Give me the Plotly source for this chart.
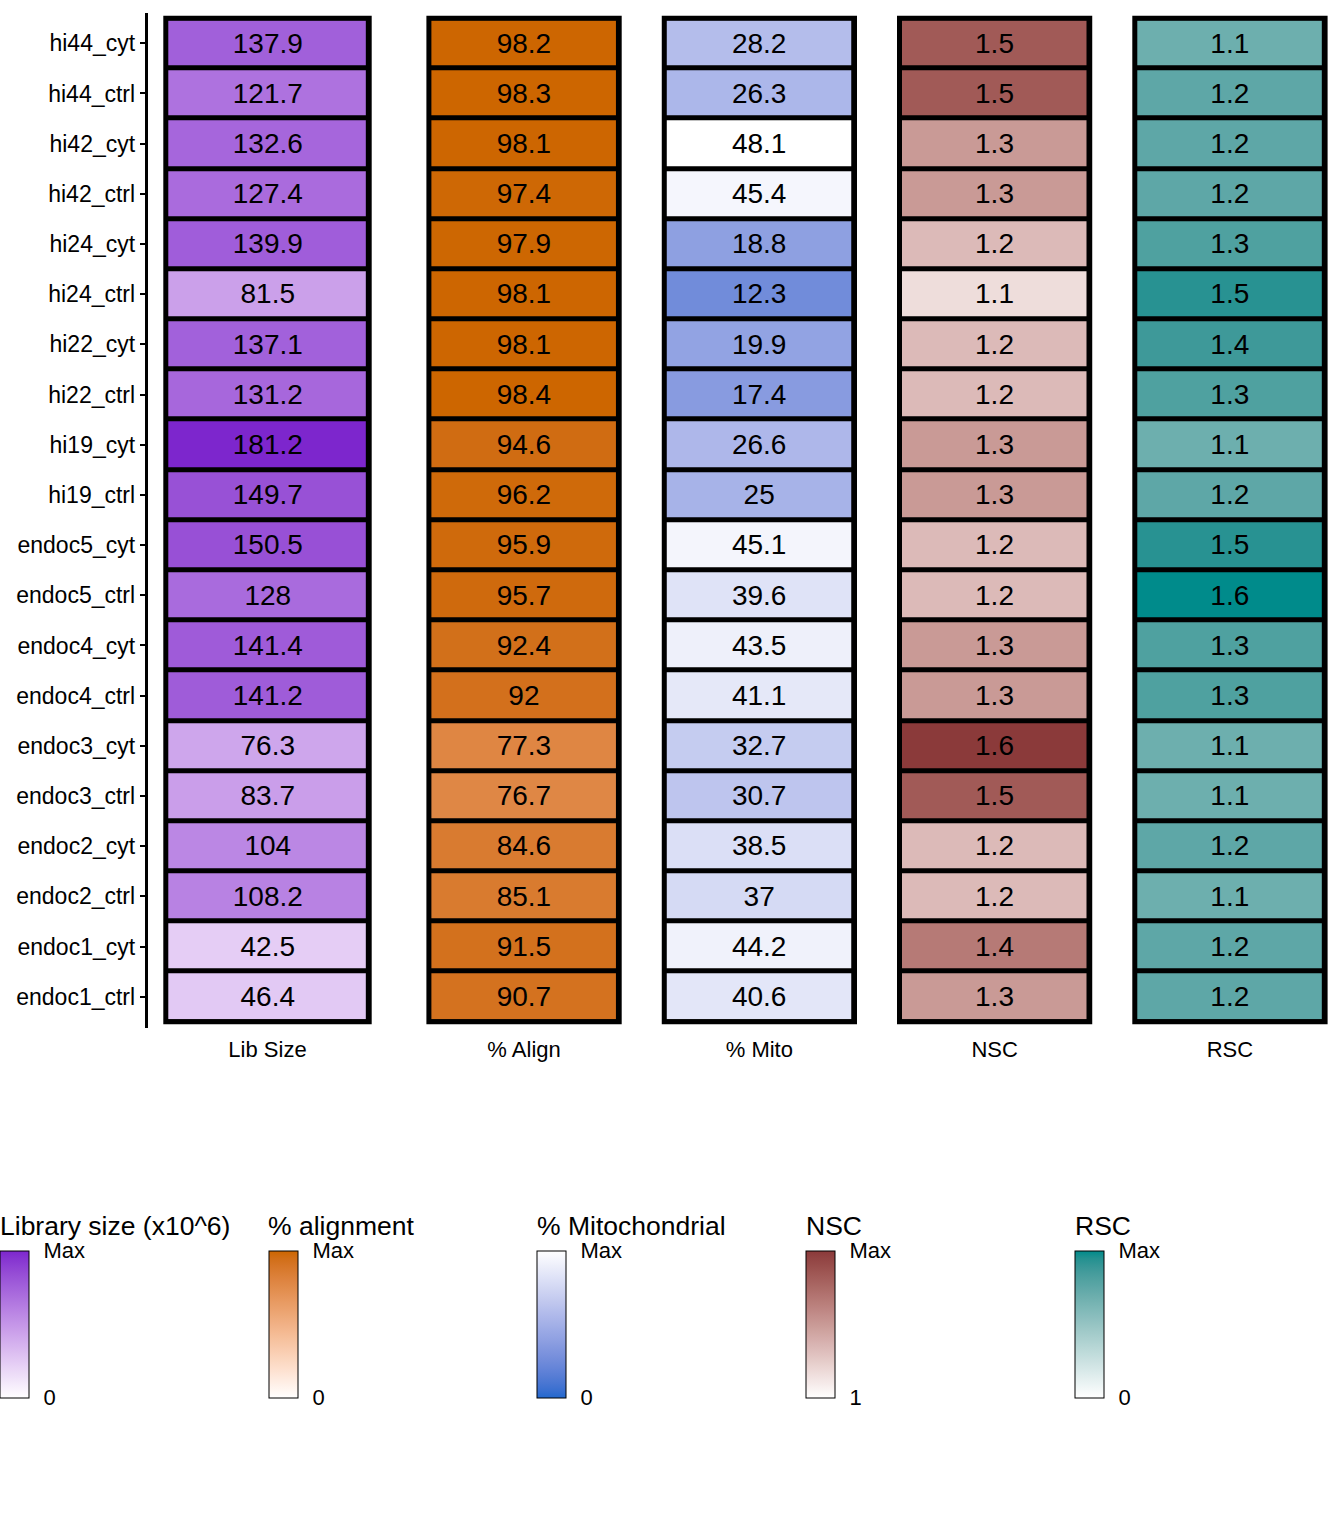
import plotly.graph_objects as go

W, H = 1344, 1536

samples = ["hi44_cyt", "hi44_ctrl", "hi42_cyt", "hi42_ctrl", "hi24_cyt", "hi24_ctrl",
           "hi22_cyt", "hi22_ctrl", "hi19_cyt", "hi19_ctrl", "endoc5_cyt", "endoc5_ctrl",
           "endoc4_cyt", "endoc4_ctrl", "endoc3_cyt", "endoc3_ctrl", "endoc2_cyt",
           "endoc2_ctrl", "endoc1_cyt", "endoc1_ctrl"]
lib_size = [137.9, 121.7, 132.6, 127.4, 139.9, 81.5, 137.1, 131.2, 181.2, 149.7,
            150.5, 128, 141.4, 141.2, 76.3, 83.7, 104, 108.2, 42.5, 46.4]
pct_align = [98.2, 98.3, 98.1, 97.4, 97.9, 98.1, 98.1, 98.4, 94.6, 96.2,
             95.9, 95.7, 92.4, 92, 77.3, 76.7, 84.6, 85.1, 91.5, 90.7]
pct_mito = [28.2, 26.3, 48.1, 45.4, 18.8, 12.3, 19.9, 17.4, 26.6, 25,
            45.1, 39.6, 43.5, 41.1, 32.7, 30.7, 38.5, 37, 44.2, 40.6]
nsc = [1.5, 1.5, 1.3, 1.3, 1.2, 1.1, 1.2, 1.2, 1.3, 1.3,
       1.2, 1.2, 1.3, 1.3, 1.6, 1.5, 1.2, 1.2, 1.4, 1.3]
rsc = [1.1, 1.2, 1.2, 1.2, 1.3, 1.5, 1.4, 1.3, 1.1, 1.2,
       1.5, 1.6, 1.3, 1.3, 1.1, 1.1, 1.2, 1.1, 1.2, 1.2]

column_labels = ["Lib Size", "% Align", "% Mito", "NSC", "RSC"]
legend_titles = ["Library size (x10^6)", "% alignment", "% Mitochondrial", "NSC", "RSC"]
scale_min_labels = ["0", "0", "0", "1", "0"]
scale_max_label = "Max"

FONT = "Liberation Sans, Arial, Helvetica, sans-serif"

# ---- Lab colour interpolation (like ggplot's gradient) ----
XN, YN, ZN = 0.95047, 1.0, 1.08883


def hex_to_rgb(h):
    h = h.lstrip("#")
    return tuple(int(h[i:i + 2], 16) for i in (0, 2, 4))


def _lin(c):
    c = c / 255.0
    return c / 12.92 if c <= 0.04045 else ((c + 0.055) / 1.055) ** 2.4


def _delin(c):
    v = 12.92 * c if c <= 0.0031308 else 1.055 * (max(c, 0) ** (1 / 2.4)) - 0.055
    return int(max(0, min(255, round(v * 255))))


def rgb_to_lab(rgb):
    r, g, b = [_lin(c) for c in rgb]
    X = 0.4124564 * r + 0.3575761 * g + 0.1804375 * b
    Y = 0.2126729 * r + 0.7151522 * g + 0.0721750 * b
    Z = 0.0193339 * r + 0.1191920 * g + 0.9503041 * b

    def f(t):
        return t ** (1 / 3) if t > 216 / 24389 else (24389 / 27 * t + 16) / 116
    fx, fy, fz = f(X / XN), f(Y / YN), f(Z / ZN)
    return (116 * fy - 16, 500 * (fx - fy), 200 * (fy - fz))


def lab_to_rgb(lab):
    L, a, b = lab
    fy = (L + 16) / 116
    fx = fy + a / 500
    fz = fy - b / 200

    def finv(t):
        return t ** 3 if t ** 3 > 216 / 24389 else (116 * t - 16) / (24389 / 27)
    X, Y, Z = finv(fx) * XN, finv(fy) * YN, finv(fz) * ZN
    r = 3.2404542 * X - 1.5371385 * Y - 0.4985314 * Z
    g = -0.9692660 * X + 1.8760108 * Y + 0.0415560 * Z
    bb = 0.0556434 * X - 0.2040259 * Y + 1.0572252 * Z
    return (_delin(r), _delin(g), _delin(bb))


def lab_scale(low, high, n=21):
    l1, l2 = rgb_to_lab(hex_to_rgb(low)), rgb_to_lab(hex_to_rgb(high))
    out = []
    for i in range(n):
        t = i / (n - 1)
        lab = tuple(l1[k] + (l2[k] - l1[k]) * t for k in range(3))
        r, g, b = lab_to_rgb(lab)
        out.append([t, f"rgb({r},{g},{b})"])
    return out


columns = [lib_size, pct_align, pct_mito, nsc, rsc]
lows = ["#FFFFFF", "#FFFFFF", "#2268CD", "#FFFFFF", "#FFFFFF"]
highs = ["#7D26CD", "#CD6600", "#FFFFFF", "#8B3A3A", "#008B8B"]
cmins = [0, 0, 0, 1, 0]

# pixel geometry of tile columns (left/right tile edges)
col_left = [165.8, 428.9, 664.2, 899.5, 1134.8]
col_right = [369.2, 619.2, 854.5, 1089.8, 1325.1]
PAD = 3.0  # px room outside tiles for the outer border

# y axis geometry
Y_TOP_PX, Y_BOT_PX = 12.7, 1028.3
TILE_TOP_PX, TILE_BOT_PX = 18.2, 1021.8
n = len(samples)
row_px = (TILE_BOT_PX - TILE_TOP_PX) / n
y_range = [n - 0.5 + (Y_BOT_PX - TILE_BOT_PX) / row_px, -0.5 - (TILE_TOP_PX - Y_TOP_PX) / row_px]

# colour bar geometry
cb_left_px = [0, 268.5, 537, 806, 1075]
CB_TITLE_MID = 1225.5
CB_BAR_TOP = 1250.7
CB_BAR_BOT = 1397.7

fig = go.Figure()
shapes = []
annotations = []
layout_axes = {}
yidx = list(range(n))

for i, vals in enumerate(columns):
    xa = "x" if i == 0 else f"x{i + 1}"
    xname = "xaxis" if i == 0 else f"xaxis{i + 1}"
    z = [[v] for v in vals]
    txt = [[f"{v:g}"] for v in vals]
    # black underlay (gives the tile borders)
    fig.add_trace(go.Heatmap(z=z, x=[0], y=yidx, xaxis=xa, yaxis="y",
                             colorscale=[[0, "black"], [1, "black"]],
                             showscale=False, hoverinfo="skip"))
    cmax = max(vals)
    fig.add_trace(go.Heatmap(
        z=z, x=[0], y=yidx, xaxis=xa, yaxis="y",
        text=txt, texttemplate="%{text}",
        textfont=dict(family=FONT, size=28, color="black"),
        colorscale=lab_scale(lows[i], highs[i]), zmin=cmins[i], zmax=cmax,
        xgap=5, ygap=5,
        colorbar=dict(
            x=cb_left_px[i] / W, xanchor="left", xpad=0,
            y=1 - CB_BAR_TOP / H, yanchor="top", ypad=0,
            lenmode="pixels", len=CB_BAR_BOT - CB_BAR_TOP,
            thickness=29, outlinewidth=1, outlinecolor="black",
            tickvals=[cmins[i], cmax], ticktext=[scale_min_labels[i], scale_max_label],
            ticks="outside", ticklen=10, tickcolor="rgba(0,0,0,0)",
            tickfont=dict(family=FONT, size=22, color="black"),
        ),
    ))
    annotations.append(dict(
        text=legend_titles[i], xref="paper", yref="paper",
        x=(cb_left_px[i] - 2.5) / W, y=1 - CB_TITLE_MID / H,
        xanchor="left", yanchor="middle", showarrow=False,
        font=dict(family=FONT, size=26.5, color="black"),
    ))
    wpx = col_right[i] - col_left[i]
    d = PAD / wpx
    layout_axes[xname] = dict(
        domain=[(col_left[i] - PAD) / W, (col_right[i] + PAD) / W],
        range=[-0.5 - d, 0.5 + d], anchor="y",
        tickvals=[0], ticktext=[column_labels[i]],
        ticks="outside", ticklen=1, tickcolor="rgba(0,0,0,0)",
        tickfont=dict(family=FONT, size=22, color="black"),
        showline=False, showgrid=False, zeroline=False, fixedrange=True,
    )
    shapes.append(dict(type="rect", xref=xa, yref="y",
                       x0=-0.5, x1=0.5, y0=-0.5, y1=n - 0.5,
                       line=dict(color="black", width=5), fillcolor="rgba(0,0,0,0)",
                       layer="above"))

fig.update_layout(
    width=W, height=H,
    margin=dict(l=0, r=0, t=0, b=0),
    paper_bgcolor="white", plot_bgcolor="white",
    font=dict(family=FONT, color="black"),
    showlegend=False,
    shapes=shapes,
    annotations=annotations,
    yaxis=dict(
        domain=[1 - Y_BOT_PX / H, 1 - Y_TOP_PX / H],
        range=y_range, anchor="free", position=145.5 / W,
        tickvals=yidx, ticktext=samples,
        ticks="outside", ticklen=5, tickwidth=2, tickcolor="black",
        tickfont=dict(family=FONT, size=23, color="black"),
        showline=True, linewidth=2.5, linecolor="black",
        showgrid=False, zeroline=False, fixedrange=True,
    ),
    **layout_axes,
)

fig.write_html("out.html", config={"displayModeBar": False},
               post_script="document.body.style.margin='0';document.body.style.padding='0';")
